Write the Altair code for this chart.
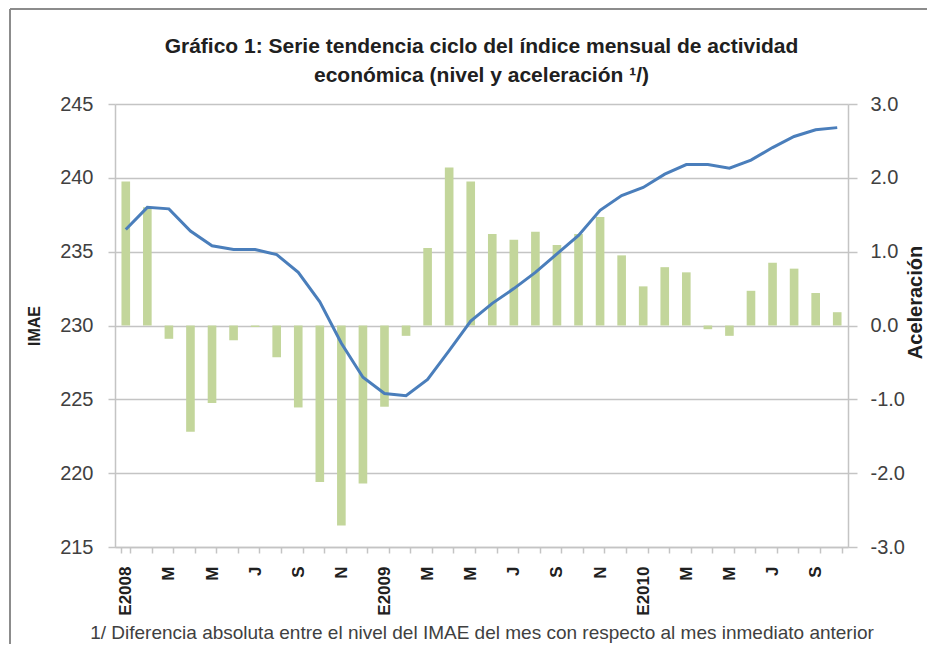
import json
import altair as alt
import pandas as pd

meses = [f"{a}-{m:02d}" for a in (2008, 2009, 2010) for m in range(1, 13)][:34]
etiquetas = ["E2008", "", "M", "", "M", "", "J", "", "S", "", "N", "",
             "E2009", "", "M", "", "M", "", "J", "", "S", "", "N", "",
             "E2010", "", "M", "", "M", "", "J", "", "S", ""]
imae = [236.5, 238.0, 237.9, 236.4, 235.4, 235.15, 235.15, 234.8, 233.6, 231.6,
        228.8, 226.5, 225.4, 225.25, 226.35, 228.3, 230.3, 231.5, 232.5, 233.6,
        234.85, 236.1, 237.8, 238.8, 239.35, 240.25, 240.9, 240.9, 240.65, 241.2,
        242.05, 242.8, 243.25, 243.4]
aceleracion = [1.95, 1.6, -0.18, -1.44, -1.05, -0.2, -0.02, -0.43, -1.11, -2.12,
               -2.71, -2.14, -1.1, -0.14, 1.05, 2.14, 1.95, 1.24, 1.16, 1.27,
               1.09, 1.24, 1.47, 0.95, 0.53, 0.79, 0.72, -0.05, -0.14, 0.47,
               0.85, 0.77, 0.44, 0.18]

titulo = ["Gráfico 1: Serie tendencia ciclo del índice mensual de actividad",
          "económica (nivel y aceleración ¹/)"]
nota = "1/ Diferencia absoluta entre el nivel del IMAE del mes con respecto al mes inmediato anterior"

df = pd.DataFrame({"mes": meses, "imae": imae, "acel": aceleracion})

FONT = "Liberation Sans, Arial, sans-serif"
GRID = "#c4c4c4"
TXT = "#404040"

label_expr = f"{json.dumps(etiquetas)}[indexof({json.dumps(meses)}, datum.value)]"

x = alt.X("mes:O", sort=meses,
          scale=alt.Scale(paddingInner=0.6, paddingOuter=0.3),
          axis=alt.Axis(title=nota, tickBand="extent", labelAngle=270,
                        labelExpr=label_expr, labelFontSize=17, labelFontWeight="bold",
                        labelColor="#202020", labelPadding=13, tickSize=6,
                        tickColor=GRID, domainColor=GRID, domainWidth=1.5, tickWidth=1.5,
                        titleFontSize=19, titleFontWeight="normal", titleColor=TXT,
                        titlePadding=8, grid=False))

barras = alt.Chart(df).mark_bar(color="#c3d69b").encode(
    x=x,
    y=alt.Y("acel:Q", scale=alt.Scale(domain=[-3, 3], nice=False),
            axis=alt.Axis(orient="right", title="Aceleración", values=[-3, -2, -1, 0, 1, 2, 3],
                          labelExpr="(datum.value < 0 ? '-' : '') + format(abs(datum.value), '.1f')",
                          grid=False, tickSize=9, tickColor=GRID, tickWidth=1.5,
                          domainColor=GRID, domainWidth=1.5, labelFontSize=20,
                          labelColor=TXT, labelPadding=13, titleAngle=270, titleY=198,
                          titleFontSize=20, titleFontWeight="bold", titleColor="#202020",
                          titlePadding=21)),
    y2=alt.datum(0),
)

linea = alt.Chart(df).mark_line(color="#4a7ebb", strokeWidth=3).encode(
    x=x,
    y=alt.Y("imae:Q", scale=alt.Scale(domain=[215, 245], nice=False),
            axis=alt.Axis(orient="left", title="IMAE", values=[215, 220, 225, 230, 235, 240, 245],
                          grid=True, gridColor=GRID, gridWidth=1.5, tickSize=7,
                          tickColor=GRID, tickWidth=1.5, domainColor=GRID, domainWidth=1.5,
                          labelFontSize=20, labelColor=TXT, labelPadding=15,
                          titleFontSize=16, titleFontWeight="bold", titleColor="#202020",
                          titlePadding=17)),
)

marco_izq = alt.Chart(df).mark_rule(color="#8c8c8c", strokeWidth=2).encode(
    x=alt.value(-105), y=alt.value(-95), y2=alt.value(540))
marco_sup = alt.Chart(df).mark_rule(color="#8c8c8c", strokeWidth=2).encode(
    x=alt.value(-105), x2=alt.value(812), y=alt.value(-95))

chart = alt.layer(barras, linea, marco_izq, marco_sup).resolve_scale(
    y="independent"
).properties(
    width=733, height=443,
    title=alt.TitleParams(text=titulo, fontSize=21, fontWeight="bold", color="#202020",
                          font=FONT, anchor="middle", lineHeight=29, offset=-78),
    autosize=alt.AutoSizeParams(type="none"),
    padding={"left": 107, "top": 96, "right": 79, "bottom": 97},
).configure(font=FONT).configure_view(stroke=None).configure_axis(
    labelFont=FONT, titleFont=FONT)

chart.save("out.html", embed_options={"renderer": "svg", "actions": False})
